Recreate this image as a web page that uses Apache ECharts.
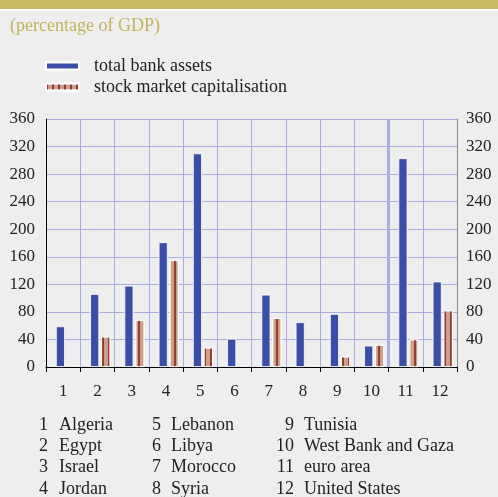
<!DOCTYPE html>
<html>
<head>
<meta charset="utf-8">
<script src="https://cdn.jsdelivr.net/npm/echarts@6/dist/echarts.min.js"></script>
<style>
html,body{margin:0;padding:0;background:#eeeeee;}
#chart{width:498px;height:497px;}
</style>
</head>
<body>
<div id="chart"></div>
<script>
const categories = ['1','2','3','4','5','6','7','8','9','10','11','12'];
const bankAssets = [59, 106, 118, 181, 310, 41, 105, 65, 77, 31, 303, 124];
const stockCap = [null, 44, 68, 155, 28, null, 71, null, 15, 32, 40, 82];
const countryNames = ['Algeria','Egypt','Israel','Jordan','Lebanon','Libya','Morocco','Syria','Tunisia','West Bank and Gaza','euro area','United States'];
const seriesNames = ['total bank assets', 'stock market capitalisation'];
const yTicks = {min: 0, max: 360, interval: 40};
const dividerAfter = 10; // separator between regional countries and comparators

const FONT = '"Liberation Serif", "DejaVu Serif", serif';
const gridColor = '#aaaee0';

const colNumRight = [48, 161, 294];
const colNameLeft = [59, 171, 304];
const keyGraphics = [];
countryNames.forEach(function (name, i) {
  const col = Math.floor(i / 4), row = i % 4;
  const y = 425 + row * 21.3;
  keyGraphics.push({type:'text', x: colNumRight[col], y: y, style:{text: categories[i], font: '18px ' + FONT, fill:'#222', align:'right', verticalAlign:'middle'}});
  keyGraphics.push({type:'text', x: colNameLeft[col], y: y, style:{text: name, font: '18px ' + FONT, fill:'#222', align:'left', verticalAlign:'middle'}});
});

const chart = echarts.init(document.getElementById('chart'), null, {renderer:'canvas'});
chart.setOption({
  backgroundColor: '#eeeeee',
  animation: false,
  textStyle: {fontFamily: FONT},
  graphic: [
    {type: 'rect', shape: {x: 0, y: 0, width: 498, height: 9}, style: {fill: '#c8bc64'}},
    {type: 'rect', shape: {x: 0, y: 9, width: 498, height: 2}, style: {fill: '#ffffff'}},
    {type: 'text', x: 10, y: 26, style: {text: '(percentage of GDP)', font: '18px ' + FONT, fill: '#c2b35b', align: 'left', verticalAlign: 'middle'}}
  ].concat(keyGraphics),
  legend: {data: seriesNames, left: 45, top: 57, orient: 'vertical', itemWidth: 33, itemHeight: 7, itemGap: 3, icon: 'rect', padding: 0,
    textStyle: {fontSize: 18, color: '#222', fontFamily: FONT, padding: [0, 0, 0, 10], lineHeight: 18}},
  grid: [
    {left: 46, right: 41, top: 119, bottom: 130},
    {left: 48.8, right: 38.2, top: 119, bottom: 130}
  ],
  xAxis: [
    {type: 'category', gridIndex: 0, data: categories, boundaryGap: true, offset: 3, position: 'bottom',
      axisLine: {lineStyle: {color: '#000', width: 1}},
      axisTick: {show: true, length: 5, lineStyle: {color: '#000'}},
      axisLabel: {fontSize: 17, color: '#222', margin: 13, fontFamily: FONT},
      splitLine: {show: true, lineStyle: {color: gridColor, width: 1}}},
    {type: 'category', gridIndex: 1, data: categories, show: false},
    {type: 'value', gridIndex: 0, min: 0, max: categories.length, show: false}
  ],
  yAxis: [
    {type: 'value', gridIndex: 0, min: yTicks.min, max: yTicks.max, interval: yTicks.interval, position: 'left',
      axisLine: {show: true, lineStyle: {color: '#000'}}, axisTick: {show: false},
      axisLabel: {fontSize: 17, color: '#222', margin: 11, fontFamily: FONT},
      splitLine: {lineStyle: {color: gridColor, width: 1}}},
    {type: 'value', gridIndex: 0, min: yTicks.min, max: yTicks.max, interval: yTicks.interval, position: 'right',
      axisLine: {show: true, lineStyle: {color: '#888'}}, axisTick: {show: false},
      axisLabel: {fontSize: 17, color: '#222', margin: 9, fontFamily: FONT},
      splitLine: {show: false}},
    {type: 'value', gridIndex: 1, min: yTicks.min, max: yTicks.max, show: false}
  ],
  series: [
    {name: seriesNames[0], type: 'bar', xAxisIndex: 1, yAxisIndex: 2, data: bankAssets, barWidth: 9,
      itemStyle: {color: '#3b4ea5', borderColor: '#ffffff', borderWidth: 0.8}},
    {name: seriesNames[1], type: 'bar', xAxisIndex: 1, yAxisIndex: 2, data: stockCap, barWidth: 9, barGap: '22%',
      itemStyle: {color: '#c9a08d', borderColor: '#ffffff', borderWidth: 0.8,
        decal: {symbol: 'rect', symbolSize: 1, symbolKeepAspect: false, color: '#9a3a2c', dashArrayX: [1.4, 3.2], dashArrayY: [10, 0], rotation: 0}}},
    {name: 'divider', type: 'line', xAxisIndex: 2, yAxisIndex: 0, data: [], silent: true,
      markLine: {symbol: 'none', silent: true, label: {show: false}, animation: false,
        lineStyle: {color: gridColor, width: 3, type: 'solid'}, data: [{xAxis: dividerAfter}]}}
  ]
});
</script>
</body>
</html>
